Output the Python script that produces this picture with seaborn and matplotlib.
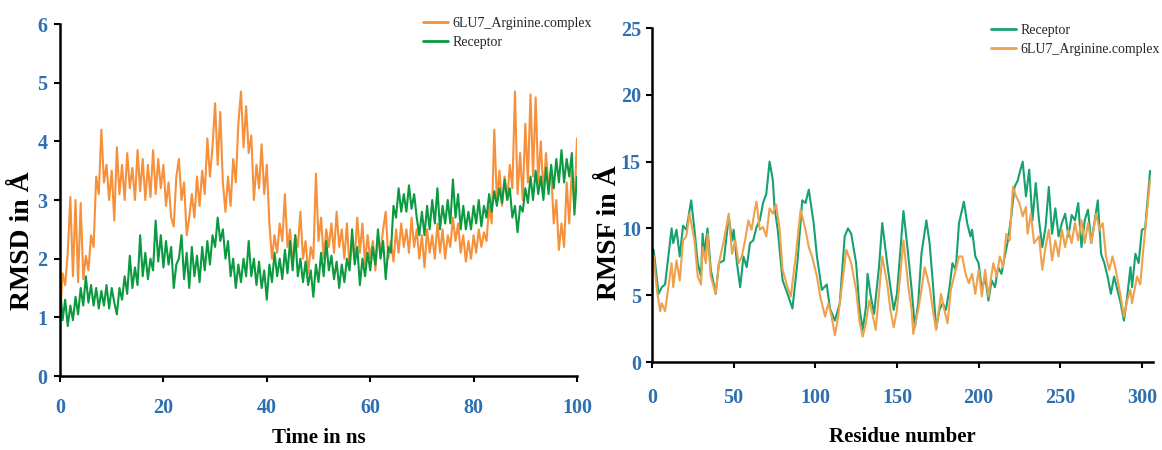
import numpy as np
import pandas as pd
import matplotlib
matplotlib.use("Agg")
import matplotlib.pyplot as plt
import seaborn as sns
from matplotlib.lines import Line2D

# ---------------- data: RMSD (left) ----------------
time_ns = [i * 0.5 for i in range(201)]
rmsd_complex = [
    0.95, 1.75, 1.55, 2.1, 3.05, 1.7, 3.0, 1.6, 2.95, 1.65,
    2.05, 1.8, 2.4, 2.2, 3.4, 3.1, 4.2, 3.3, 3.6, 3.0,
    3.5, 2.65, 3.9, 3.1, 3.6, 3.0, 3.8, 3.2, 3.55, 3.0,
    3.85, 3.15, 3.7, 3.0, 3.6, 3.05, 3.85, 3.1, 3.7, 3.2,
    3.6, 2.9, 3.3, 2.7, 2.55, 3.4, 3.7, 3.0, 3.3, 2.4,
    2.7, 3.1, 2.7, 3.4, 2.9, 3.5, 3.1, 4.05, 3.4, 3.9,
    4.65, 3.6, 4.5, 3.3, 2.8, 3.4, 2.9, 3.7, 3.3, 4.3,
    4.85, 3.9, 4.6, 3.8, 4.1, 3.0, 3.6, 3.2, 3.95, 3.1,
    3.6, 2.6, 2.0, 2.4, 2.1, 2.6, 2.3, 3.1, 2.2, 2.5,
    1.9, 2.4, 2.2, 2.8, 2.0, 2.3, 1.75, 2.2, 2.0, 3.45,
    2.3, 2.7, 2.0, 2.5, 2.2, 2.6, 2.1, 2.8, 2.2, 2.5,
    2.0, 2.6, 1.85, 2.3, 2.0, 2.7, 2.1, 2.6, 1.9, 2.4,
    2.0, 2.3, 1.8, 2.4, 2.1, 2.5, 2.8, 2.0, 2.3, 1.95,
    2.5, 2.1, 2.6, 2.2, 2.5, 2.1, 2.7, 2.2, 2.5, 2.0,
    2.4, 1.85, 2.5, 2.1, 2.4, 2.0, 2.6, 2.1, 2.5, 2.0,
    2.4, 2.2, 2.7, 2.3, 2.6, 2.1, 2.4, 1.95, 2.3, 2.0,
    2.4, 2.1, 2.5, 2.2, 2.45, 2.3, 2.9, 2.6, 4.2, 3.0,
    3.5, 2.9, 3.4, 3.0, 3.6, 3.2, 4.85, 3.1, 3.8, 3.0,
    4.3, 3.3, 4.8, 3.4, 4.75, 3.3, 4.0, 3.1, 3.8, 3.2,
    3.5, 2.6, 3.0, 2.15, 2.6, 2.2, 3.3, 2.6, 3.5, 2.9,
    4.05]
rmsd_receptor = [
    1.55, 0.95, 1.3, 0.85, 1.2, 0.95, 1.35, 1.05, 1.5, 1.2,
    1.7, 1.25, 1.55, 1.2, 1.5, 1.15, 1.45, 1.2, 1.55, 1.15,
    1.5, 1.25, 1.05, 1.5, 1.3, 1.7, 1.4, 2.05, 1.5, 1.85,
    1.55, 2.4, 1.7, 2.1, 1.65, 2.0, 1.8, 2.65, 1.95, 2.4,
    1.85, 2.3, 1.9, 2.2, 1.5, 1.9, 2.0, 2.4, 1.65, 2.1,
    1.5, 2.2, 1.7, 2.05, 1.6, 2.2, 1.8, 2.3, 1.9, 2.4,
    2.2, 2.7, 2.3, 2.5, 2.0, 2.3, 1.7, 2.0, 1.5, 1.9,
    1.6, 2.0, 1.7, 2.3, 1.7, 2.0, 1.55, 1.95, 1.5, 1.8,
    1.3, 1.9, 1.6, 2.1, 1.7, 2.0, 1.65, 2.15, 1.75, 2.3,
    1.8, 2.4, 1.7, 2.0, 1.6, 1.95, 1.55, 1.8, 1.35, 1.9,
    1.6, 2.1, 1.7, 2.3, 1.8, 2.05, 1.65, 1.95, 1.5, 1.9,
    1.6, 2.0, 1.8, 2.5, 1.9, 2.2, 1.55, 2.0, 1.7, 2.1,
    1.8, 2.2, 1.9, 2.5, 2.0, 2.3, 1.65, 2.2, 2.1, 2.9,
    2.7, 3.2, 2.8, 3.1, 2.8, 3.25, 2.85, 3.1, 2.7, 2.4,
    2.8, 2.4, 2.9, 2.5, 3.0, 2.6, 3.2, 2.5, 2.9, 2.6,
    3.0, 2.6, 3.35, 2.7, 3.1, 2.5, 2.9, 2.5, 2.8, 2.5,
    2.9, 2.6, 3.0, 2.55, 2.9, 2.7, 3.1, 2.8, 3.15, 2.9,
    3.2, 2.95, 3.35, 3.0, 3.2, 2.7, 2.9, 2.45, 2.9, 2.8,
    3.2, 2.95, 3.4, 3.0, 3.5, 3.1, 3.4, 3.0, 3.55, 3.1,
    3.6, 3.2, 3.7, 3.3, 3.85, 3.3, 3.7, 3.4, 3.8, 2.75,
    3.4]

# ---------------- data: RMSF (right) ----------------
rec_res = [0, 1, 4, 6, 8, 10, 12, 13, 15, 17, 19, 21, 22, 24, 26, 28, 30, 31, 32, 34,
           36, 39, 41, 44, 47, 49, 50, 52, 54, 56, 58, 60, 62, 64, 66, 68, 70, 72, 74, 75,
           77, 80, 83, 86, 89, 92, 94, 96, 99, 101, 104, 107, 109, 112, 115, 118, 120, 122, 125, 127,
           129, 131, 132, 134, 136, 139, 141, 144, 146, 148, 150, 154, 157, 159, 161, 163, 165, 168, 170, 172,
           174, 176, 178, 180, 182, 184, 186, 188, 191, 193, 195, 196, 198, 200, 202, 204, 206, 208, 210, 212,
           214, 216, 218, 220, 222, 224, 225, 227, 229, 231, 233, 235, 237, 239, 241, 243, 245, 247, 249, 251,
           253, 255, 257, 259, 261, 263, 265, 267, 269, 273, 275, 277, 279, 281, 283, 285, 287, 289, 291, 293,
           294, 296, 298, 300, 302, 305]
rec_rmsf = [8.5, 8.4, 5.1, 5.6, 5.8, 7.9, 10.0, 8.9, 9.9, 7.9, 10.2, 9.9, 10.6, 12.1, 9.9, 7.4, 6.4, 9.6, 8.1, 10.0,
            6.9, 5.1, 7.4, 7.6, 10.9, 9.1, 9.9, 7.4, 5.6, 7.9, 7.1, 8.9, 9.1, 10.1, 10.6, 11.9, 12.6, 15.0, 13.6, 11.6,
            9.9, 6.1, 5.1, 4.0, 7.4, 12.1, 11.9, 12.9, 10.4, 7.9, 5.4, 5.8, 4.0, 3.1, 4.4, 9.4, 10.0, 9.6, 7.4, 4.1,
            2.4, 4.1, 6.6, 4.9, 3.6, 7.1, 10.4, 7.4, 5.6, 3.9, 5.1, 11.3, 7.9, 5.4, 2.6, 4.4, 8.1, 10.6, 8.9, 5.9,
            2.5, 3.9, 4.4, 3.9, 5.4, 7.4, 6.9, 10.4, 12.0, 10.4, 9.4, 9.9, 7.9, 7.4, 5.4, 6.4, 4.6, 6.1, 5.6, 7.1,
            6.6, 7.9, 9.1, 10.9, 13.1, 13.6, 14.1, 15.0, 12.4, 14.4, 10.6, 13.4, 10.6, 8.6, 10.1, 13.1, 9.6, 11.5, 9.4, 10.4,
            11.1, 9.4, 11.0, 10.6, 11.9, 8.6, 10.6, 11.4, 8.9, 12.1, 8.1, 7.4, 6.4, 5.1, 6.4, 5.4, 4.4, 3.1, 4.9, 7.1,
            5.6, 8.1, 7.4, 9.9, 10.0, 14.3]
cpx_res = [0, 1, 3, 5, 6, 8, 10, 12, 13, 15, 17, 19, 21, 23, 26, 28, 30, 31, 33, 34,
           36, 39, 41, 44, 47, 49, 51, 53, 55, 57, 59, 61, 63, 64, 66, 68, 70, 72, 74, 76,
           78, 80, 83, 85, 88, 91, 94, 96, 98, 101, 103, 106, 108, 110, 112, 114, 117, 119, 122, 125,
           127, 129, 131, 133, 135, 137, 139, 141, 144, 146, 148, 150, 154, 157, 159, 160, 163, 165, 167, 170,
           172, 174, 177, 179, 181, 183, 185, 188, 190, 192, 194, 196, 198, 200, 202, 204, 206, 209, 211, 213,
           215, 217, 219, 221, 223, 225, 227, 229, 230, 232, 234, 237, 239, 241, 243, 245, 247, 249, 251, 253,
           255, 257, 259, 261, 263, 265, 267, 269, 272, 274, 276, 278, 280, 282, 284, 287, 289, 291, 293, 294,
           297, 299, 301, 305]
cpx_rmsf = [8.2, 7.9, 5.4, 3.8, 4.4, 3.8, 5.6, 7.4, 5.6, 7.6, 6.1, 9.1, 9.4, 11.1, 9.1, 6.4, 5.8, 8.6, 7.4, 9.6,
            6.4, 5.1, 7.4, 9.1, 11.1, 8.1, 9.1, 7.4, 7.9, 9.1, 10.6, 9.9, 11.4, 12.0, 9.9, 10.1, 9.4, 11.5, 11.1, 11.8,
            10.1, 6.9, 5.6, 4.9, 7.9, 11.4, 9.9, 8.6, 7.9, 6.4, 4.9, 3.4, 4.4, 3.4, 2.0, 3.4, 6.4, 8.4, 7.4, 5.4,
            3.1, 1.9, 2.9, 4.6, 3.6, 2.4, 5.1, 7.9, 5.9, 3.9, 2.6, 3.9, 9.1, 5.6, 3.9, 2.1, 3.9, 5.4, 7.1, 5.6,
            3.9, 2.4, 5.1, 3.9, 2.9, 5.4, 6.4, 7.9, 7.9, 6.6, 5.9, 6.6, 5.1, 6.9, 4.9, 6.9, 4.9, 7.4, 6.4, 7.9,
            7.1, 9.6, 9.1, 13.1, 12.4, 11.9, 10.9, 11.6, 9.6, 11.1, 8.9, 9.4, 6.9, 8.6, 9.9, 7.6, 9.1, 7.9, 9.9, 8.6,
            9.9, 8.9, 10.4, 9.1, 10.6, 8.9, 10.4, 8.9, 11.1, 9.9, 10.4, 7.9, 6.9, 7.9, 6.9, 4.9, 3.4, 4.6, 5.4, 4.4,
            6.4, 5.8, 8.6, 13.6]

left_x_ticks = [0, 20, 40, 60, 80, 100]
left_y_ticks = [0, 1, 2, 3, 4, 5, 6]
right_x_ticks = [0, 50, 100, 150, 200, 250, 300]
right_y_ticks = [0, 5, 10, 15, 20, 25]
label_complex = "6LU7_Arginine.complex"
label_receptor = "Receptor"

# ---------------- style ----------------
sns.set_theme(style="ticks")
plt.rcParams["font.family"] = ["Liberation Serif", "DejaVu Serif"]

TICK_BLUE = "#2e6fb2"
L_ORANGE = "#f7903a"
L_GREEN = "#0b9a40"
R_GREEN = "#17a070"
R_ORANGE = "#eea24e"

W, H = 1162, 450
fig = plt.figure(figsize=(W / 100, H / 100), dpi=100)
fig.patch.set_facecolor("white")
ax1 = fig.add_axes([60 / W, 1 - 376 / H, 517 / W, 352 / H])
ax2 = fig.add_axes([652 / W, 1 - 362 / H, 501 / W, 334 / H])

df_l = pd.DataFrame({"t": time_ns * 2,
                     "v": rmsd_complex + rmsd_receptor,
                     "s": [label_complex] * len(time_ns) + [label_receptor] * len(time_ns)})
sns.lineplot(data=df_l, x="t", y="v", hue="s", palette={label_complex: L_ORANGE, label_receptor: L_GREEN},
             estimator=None, sort=False, linewidth=1.5, ax=ax1, legend=False)

df_r = pd.DataFrame({"r": rec_res + cpx_res,
                     "v": rec_rmsf + cpx_rmsf,
                     "s": [label_receptor] * len(rec_res) + [label_complex] * len(cpx_res)})
sns.lineplot(data=df_r, x="r", y="v", hue="s", palette={label_receptor: R_GREEN, label_complex: R_ORANGE},
             estimator=None, sort=False, linewidth=1.5, ax=ax2, legend=False)

for ax in (ax1, ax2):
    ax.set_facecolor("white")
    for sp in ("top", "right"):
        ax.spines[sp].set_visible(False)
    for sp in ("left", "bottom"):
        ax.spines[sp].set_color("black")
        ax.spines[sp].set_linewidth(1.8)
    ax.tick_params(axis="both", direction="out", length=4, width=1.5, color="black",
                   labelcolor=TICK_BLUE, labelsize=14.5)

ax1.set_xlim(0, 100)
ax1.set_ylim(0, 6)
ax1.set_xticks(left_x_ticks)
ax1.set_yticks(left_y_ticks)
ax1.tick_params(axis="x", pad=12)
ax1.tick_params(axis="y", pad=5)

ax2.set_xlim(0, 306.8)
ax2.set_ylim(0, 25)
ax2.set_xticks(right_x_ticks)
ax2.set_yticks(right_y_ticks)
ax2.tick_params(axis="x", pad=15)
ax2.tick_params(axis="y", pad=4)

for ax in (ax1, ax2):
    for lab in ax.get_xticklabels() + ax.get_yticklabels():
        lab.set_fontweight("bold")

ax1.set_xlabel("Time in ns", fontsize=15, fontweight="bold", color="black")
ax1.set_ylabel("RMSD in Å", fontsize=20, fontweight="bold", color="black")
ax1.xaxis.set_label_coords(0.5, -0.148)
ax1.yaxis.set_label_coords(-0.048, 0.386)

ax2.set_xlabel("Residue number", fontsize=15, fontweight="bold", color="black")
ax2.set_ylabel("RMSF in Å", fontsize=20, fontweight="bold", color="black")
ax2.xaxis.set_label_coords(0.5, -0.195)
ax2.yaxis.set_label_coords(-0.06, 0.386)

leg_kw = dict(frameon=False, fontsize=10, handlelength=1.8, handletextpad=0.35,
              labelspacing=0.45, borderpad=0, borderaxespad=0)
h_l = [Line2D([], [], color=L_ORANGE, lw=2), Line2D([], [], color=L_GREEN, lw=2)]
fig.legend(h_l, [label_complex, label_receptor], loc="upper left",
           bbox_to_anchor=(423 / W, 1 - 17 / H), **leg_kw)
h_r = [Line2D([], [], color=R_GREEN, lw=2), Line2D([], [], color=R_ORANGE, lw=2)]
leg_r = fig.legend(h_r, [label_receptor, label_complex], loc="upper right",
                   bbox_to_anchor=(1160 / W, 1 - 24 / H), **leg_kw)

fig.savefig("out.png", dpi=100, facecolor="white")
